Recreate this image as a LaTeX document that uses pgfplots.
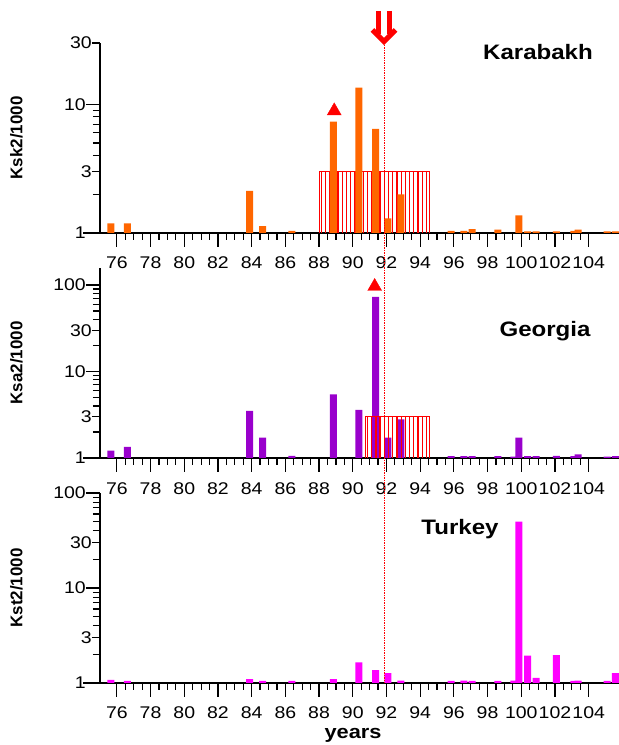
\documentclass[border=0pt]{standalone}
\usepackage{fontspec}
\setmainfont{Liberation Sans}[FakeStretch=1.15]
\newfontfamily\ylfont{Liberation Sans}
\usepackage{pgfplots}
\usepackage{pgfplotstable}
\pgfplotsset{compat=1.18}
\definecolor{korange}{RGB}{255,102,0}
\definecolor{kpurple}{RGB}{153,0,204}
\definecolor{kmag}{RGB}{255,0,255}

\pgfplotstableread{
x y
75.64 1.19
76.63 1.19
83.88 2.13
84.65 1.13
86.39 1.04
88.85 7.34
90.37 13.5
91.36 6.44
92.09 1.30
92.86 2.00
95.84 1.04
96.60 1.04
97.09 1.07
98.61 1.06
99.86 1.37
100.37 1.03
100.88 1.03
102.09 1.03
103.12 1.04
103.37 1.06
105.09 1.03
105.59 1.03
}\karabakh

\pgfplotstableread{
x y
75.64 1.22
76.63 1.34
83.88 3.5
84.65 1.72
86.39 1.06
88.85 5.45
90.37 3.59
91.36 73
92.09 1.72
92.86 2.8
95.84 1.05
96.60 1.05
97.09 1.05
98.61 1.05
99.56 1.04
99.86 1.72
100.37 1.05
100.88 1.05
102.09 1.06
103.12 1.05
103.37 1.10
105.09 1.04
105.59 1.05
}\georgia

\pgfplotstableread{
x y
75.64 1.08
76.63 1.05
83.88 1.10
84.65 1.05
86.39 1.05
88.85 1.10
90.37 1.65
91.36 1.37
92.09 1.27
92.86 1.06
95.84 1.05
96.60 1.06
97.09 1.05
98.61 1.05
99.56 1.06
99.86 50
100.37 1.94
100.88 1.13
102.09 1.96
103.12 1.05
103.37 1.06
105.09 1.05
105.59 1.27
}\turkey

% hatch lines of the red boxes (every quarter year, height 3)
\pgfplotstableread{
x y
88.125 3
88.375 3
88.625 3
88.875 3
89.125 3
89.375 3
89.625 3
89.875 3
90.125 3
90.375 3
90.625 3
90.875 3
91.125 3
91.375 3
91.625 3
91.875 3
92.125 3
92.375 3
92.625 3
92.875 3
93.125 3
93.375 3
93.625 3
93.875 3
94.125 3
94.375 3
}\hatchtop

\pgfplotstableread{
x y
90.875 3
91.125 3
91.375 3
91.625 3
91.875 3
92.125 3
92.375 3
92.625 3
92.875 3
93.125 3
93.375 3
93.625 3
93.875 3
94.125 3
94.375 3
}\hatchmid

\pgfplotsset{
  kpanel/.style={
    scale only axis, width=519bp, height=190bp,
    xmin=75, xmax=105.8, ymin=1,
    axis x line=bottom, axis y line=left,
    axis line style={-, line width=1.2bp, black},
    xtick={76,78,...,104},
    xticklabels={76,78,80,82,84,86,88,90,92,94,96,98,100,102,104},
    minor x tick num=3,
    tick align=outside,
    major tick length=14bp, minor tick length=7bp,
    tick style={black, line width=1.2bp},
    xticklabel style={font=\fontsize{17}{17}\selectfont, inner sep=0pt, anchor=north, yshift=-10bp},
    yticklabel style={font=\fontsize{17}{17}\selectfont, inner sep=0pt, anchor=east},
    extra y tick style={major tick length=8bp},
    extra y ticks={3,30}, extra y tick labels={3,30},
    ylabel style={font=\ylfont\fontsize{17}{17}\selectfont\bfseries,
      at={(axis description cs:-0.161,0.5)}, anchor=center},
  },
}

\begin{document}
\begin{tikzpicture}
\useasboundingbox (0,0) rectangle (619bp,745bp);

% top panel
\begin{semilogyaxis}[kpanel, at={(100bp,512bp)}, anchor=south west, ymax=30,
  ytick={1,10}, yticklabels={1\hspace{6bp},10}, ylabel={Ksk2/1000}]
\addplot[ycomb, color=red, line width=1.3bp, mark=none] table[x=x,y=y] {\hatchtop};
\addplot[draw=red, line width=1.1bp, fill=none, mark=none]
  coordinates {(88,1) (88,3) (94.56,3) (94.56,1)};
\addplot[ybar, bar width=7bp, draw=none, fill=korange] table[x=x,y=y] {\karabakh};
\addplot[only marks, mark=triangle*, mark size=8bp, red] coordinates {(88.9,8.9)};
\end{semilogyaxis}

% middle panel
\begin{semilogyaxis}[kpanel, at={(100bp,287bp)}, anchor=south west, ymax=157,
  ytick={1,10,100}, yticklabels={1\hspace{6bp},10,100}, ylabel={Ksa2/1000}]
\addplot[ybar, bar width=7bp, draw=none, fill=kpurple] table[x=x,y=y] {\georgia};
\addplot[ycomb, color=red, line width=1.3bp, mark=none] table[x=x,y=y] {\hatchmid};
\addplot[draw=red, line width=1.1bp, fill=none, mark=none]
  coordinates {(90.75,1) (90.75,3) (94.56,3) (94.56,1)};
\addplot[only marks, mark=triangle*, mark size=8bp, red] coordinates {(91.3,96)};
\end{semilogyaxis}

% bottom panel
\begin{semilogyaxis}[kpanel, at={(100bp,62bp)}, anchor=south west, ymax=100,
  ytick={1,10,100}, yticklabels={1\hspace{6bp},10,100}, ylabel={Kst2/1000},
  xlabel={years},
  xlabel style={font=\fontsize{19}{19}\selectfont\bfseries, anchor=base,
    at={(axis description cs:0.4875,-0.29)}}]
\addplot[ybar, bar width=7bp, draw=none, fill=kmag] table[x=x,y=y] {\turkey};
\end{semilogyaxis}

% x-axis extensions left of the y axes
\draw[line width=1.2bp] (83bp,512bp) -- (100bp,512bp);
\draw[line width=1.2bp] (83bp,287bp) -- (100bp,287bp);
\draw[line width=1.2bp] (83bp,62bp) -- (100bp,62bp);

% dotted marker line and double arrow
\draw[red, line width=0.9bp, dash pattern=on 1.5bp off 1bp] (384.3bp,700bp) -- (384.3bp,62bp);
\draw[red, line width=5bp] (378.7bp,734bp) -- (378.7bp,711bp) (389.3bp,734bp) -- (389.3bp,711bp);
\draw[red, line width=5bp, miter limit=10] (372.5bp,715bp) -- (384bp,703.5bp) -- (395.5bp,715bp);

% panel titles
\node[anchor=base, font=\fontsize{21}{21}\selectfont\bfseries] at (538bp,685bp) {Karabakh};
\node[anchor=base, font=\fontsize{21}{21}\selectfont\bfseries] at (545bp,408bp) {Georgia};
\node[anchor=base, font=\fontsize{21}{21}\selectfont\bfseries] at (460bp,210bp) {Turkey};
\end{tikzpicture}
\end{document}
